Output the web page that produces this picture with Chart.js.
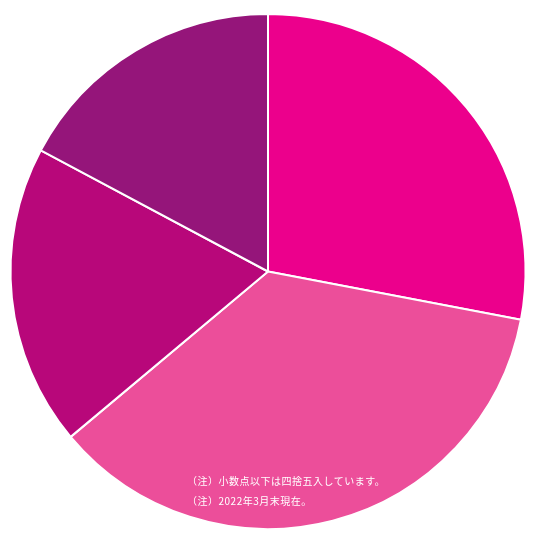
<!DOCTYPE html>
<html lang="ja">
<head>
<meta charset="utf-8">
<script src="https://cdn.jsdelivr.net/npm/chart.js@4"></script>
<style>
  html, body { margin: 0; padding: 0; background: #ffffff; }
  #wrap { position: relative; width: 540px; height: 540px; }
  #notes {
    position: absolute; left: 187px; top: 471px;
    color: #ffffff; font-family: "Noto Sans CJK JP", sans-serif;
    font-size: 10px; line-height: 20px; letter-spacing: 0.5px;
  }
</style>
</head>
<body>
<div id="wrap">
  <canvas id="pieChart" width="540" height="540"></canvas>
  <div id="notes">
    <div>（注）小数点以下は四捨五入しています。</div>
    <div>（注）2022年3月末現在。</div>
  </div>
</div>
<script>
// 各スライスの値
const labels = ['A', 'B', 'C', 'D'];
const values = [28.0, 35.9, 18.9, 17.2];
const colors = ['#EC008C', '#EC4E9A', '#B8077A', '#95157A'];

const ctx = document.getElementById('pieChart').getContext('2d');
new Chart(ctx, {
    type: 'pie',
    data: {
        labels: labels,
        datasets: [{
            data: values,
            backgroundColor: colors,
            borderColor: '#ffffff',
            borderWidth: 2
        }]
    },
    options: {
        responsive: false,
        animation: false,
        layout: { padding: { left: 9, right: 13, top: 13, bottom: 10 } },
        plugins: {
            legend: { display: false },
            tooltip: { enabled: false }
        }
    }
});
</script>
</body>
</html>
